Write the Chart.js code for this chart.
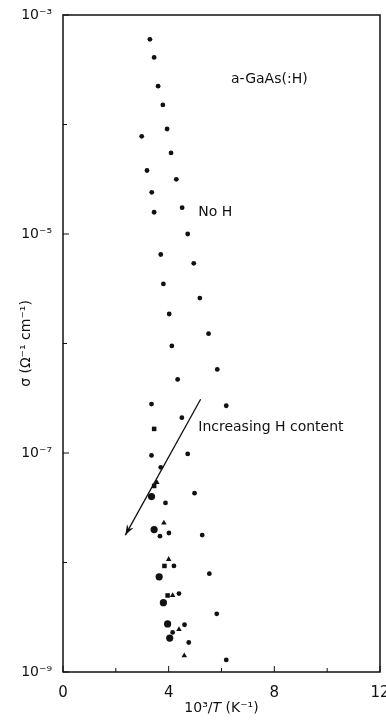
<!DOCTYPE html>
<html>
<head>
<meta charset="utf-8">
<script src="https://cdn.jsdelivr.net/npm/chart.js@4.4.1/dist/chart.umd.min.js"></script>
<style>
  html, body { margin: 0; padding: 0; background: #fff; }
  #wrap { width: 386px; height: 720px; }
</style>
</head>
<body>
<div id="wrap"><canvas id="chart" width="386" height="720"></canvas></div>
<script>
// small filled dots (10^3/T in K^-1, sigma in ohm^-1 cm^-1)
const dotX = [3.29, 3.45, 3.60, 3.78, 3.94, 2.98, 4.09, 3.18, 4.29, 3.36, 3.45, 4.51, 4.72,
  3.70, 4.95, 3.80, 5.18, 4.02, 5.51, 4.12, 5.84, 4.34, 3.35, 6.18, 4.50, 3.35, 4.72,
  3.70, 4.98, 3.88, 3.67, 4.01, 5.27, 4.20, 5.54, 4.39, 5.82, 4.60, 4.15, 4.76, 6.18];
const dotY = [6.0e-4, 4.1e-4, 2.24e-4, 1.51e-4, 9.1e-5, 7.8e-5, 5.5e-5, 3.8e-5, 3.16e-5, 2.4e-5, 1.58e-5, 1.74e-5, 1.0e-5,
  6.5e-6, 5.4e-6, 3.5e-6, 2.6e-6, 1.86e-6, 1.23e-6, 9.5e-7, 5.8e-7, 4.7e-7, 2.8e-7, 2.7e-7, 2.1e-7, 9.5e-8, 9.8e-8,
  7.4e-8, 4.3e-8, 3.5e-8, 1.74e-8, 1.86e-8, 1.78e-8, 9.3e-9, 7.9e-9, 5.2e-9, 3.4e-9, 2.7e-9, 2.3e-9, 1.86e-9, 1.29e-9];

// larger dots
const bigX = [3.35, 3.45, 3.64, 3.80, 3.96, 4.04];
const bigY = [4.0e-8, 2.0e-8, 7.4e-9, 4.3e-9, 2.75e-9, 2.04e-9];

// triangles
const triX = [3.55, 3.82, 4.00, 4.15, 4.39, 4.59];
const triY = [5.4e-8, 2.3e-8, 1.07e-8, 5.0e-9, 2.45e-9, 1.41e-9];

// small squares
const sqX = [3.45, 3.45, 3.84, 3.96];
const sqY = [1.66e-7, 5.0e-8, 9.3e-9, 5.0e-9];

// arrow "Increasing H content"
const arrowX = [5.21, 2.36];
const arrowY = [3.1e-7, 1.78e-8];

const xTicks = [0, 2, 4, 6, 8, 10, 12];
const xTickLabels = ['0', '', '4', '', '8', '', '12'];
const yTicks = [1e-9, 1e-8, 1e-7, 1e-6, 1e-5, 1e-4, 1e-3];
const yTickLabels = ['10⁻⁹', '', '10⁻⁷', '', '10⁻⁵', '', '10⁻³'];

const FONT = '"DejaVu Sans", sans-serif';

const pts = (xs, ys) => xs.map((x, i) => ({ x: x, y: ys[i] }));

const frame = {
  id: 'frame',
  afterDraw(chart) {
    const { ctx, chartArea: a, scales } = chart;
    ctx.save();
    ctx.strokeStyle = '#111';
    ctx.lineWidth = 1.5;
    ctx.strokeRect(a.left, a.top, a.right - a.left, a.bottom - a.top);

    // inward tick marks
    ctx.lineWidth = 1;
    xTicks.forEach((v, i) => {
      const px = scales.x.getPixelForValue(v);
      const len = xTickLabels[i] ? 6 : 4;
      ctx.beginPath();
      ctx.moveTo(px, a.bottom);
      ctx.lineTo(px, a.bottom - len);
      ctx.stroke();
    });
    yTicks.forEach((v, i) => {
      const py = scales.y.getPixelForValue(v);
      const len = yTickLabels[i] ? 6 : 4;
      ctx.beginPath();
      ctx.moveTo(a.left, py);
      ctx.lineTo(a.left + len, py);
      ctx.stroke();
    });

    // arrow head
    const x1 = scales.x.getPixelForValue(arrowX[0]), y1 = scales.y.getPixelForValue(arrowY[0]);
    const x2 = scales.x.getPixelForValue(arrowX[1]), y2 = scales.y.getPixelForValue(arrowY[1]);
    const ang = Math.atan2(y2 - y1, x2 - x1);
    ctx.fillStyle = '#111';
    ctx.beginPath();
    ctx.moveTo(x2, y2);
    ctx.lineTo(x2 - 11 * Math.cos(ang - 0.35), y2 - 11 * Math.sin(ang - 0.35));
    ctx.lineTo(x2 - 7 * Math.cos(ang), y2 - 7 * Math.sin(ang));
    ctx.lineTo(x2 - 11 * Math.cos(ang + 0.35), y2 - 11 * Math.sin(ang + 0.35));
    ctx.closePath();
    ctx.fill();

    // annotations
    ctx.fillStyle = '#111';
    ctx.textBaseline = 'middle';
    ctx.textAlign = 'left';
    ctx.font = '14px ' + FONT;
    ctx.fillText('a-GaAs(:H)', scales.x.getPixelForValue(6.36), scales.y.getPixelForValue(2.6e-4));
    ctx.fillText('No H', scales.x.getPixelForValue(5.12), scales.y.getPixelForValue(1.58e-5));
    ctx.fillText('Increasing H content', scales.x.getPixelForValue(5.12), scales.y.getPixelForValue(1.7e-7));

    // x axis title with italic T
    const parts = [['10³/', '14px ' + FONT], ['T', 'italic 14px ' + FONT], [' (K⁻¹)', '14px ' + FONT]];
    let total = 0;
    parts.forEach(p => { ctx.font = p[1]; total += ctx.measureText(p[0]).width; });
    let cx = (a.left + a.right) / 2 - total / 2;
    parts.forEach(p => {
      ctx.font = p[1];
      ctx.fillText(p[0], cx, 708);
      cx += ctx.measureText(p[0]).width;
    });
    ctx.restore();
  }
};

new Chart(document.getElementById('chart'), {
  type: 'scatter',
  data: {
    datasets: [
      { data: pts(dotX, dotY), pointStyle: 'circle', pointRadius: 2.4, backgroundColor: '#111', borderWidth: 0 },
      { data: pts(bigX, bigY), pointStyle: 'circle', pointRadius: 3.6, backgroundColor: '#111', borderWidth: 0 },
      { data: pts(triX, triY), pointStyle: 'triangle', pointRadius: 3.2, backgroundColor: '#111', borderWidth: 0 },
      { data: pts(sqX, sqY), pointStyle: 'rect', pointRadius: 3.2, backgroundColor: '#111', borderWidth: 0 },
      { data: pts(arrowX, arrowY), showLine: true, borderColor: '#111', borderWidth: 1.3, pointRadius: 0 }
    ]
  },
  options: {
    responsive: false,
    animation: false,
    layout: { padding: { top: 15, right: 6, left: 0, bottom: 0 } },
    plugins: { legend: { display: false }, tooltip: { enabled: false } },
    scales: {
      x: {
        type: 'linear',
        min: 0,
        max: 12,
        grid: { display: false },
        border: { display: false },
        afterBuildTicks: s => { s.ticks = xTicks.map(v => ({ value: v })); },
        ticks: {
          autoSkip: false,
          maxRotation: 0,
          color: '#111',
          font: { family: FONT, size: 15 },
          padding: 4,
          callback: (v, i) => xTickLabels[i]
        },
        afterFit: s => { s.height = 48; s.paddingLeft = 0; s.paddingRight = 0; }
      },
      y: {
        type: 'logarithmic',
        min: 1e-9,
        max: 1e-3,
        grid: { display: false },
        border: { display: false },
        afterBuildTicks: s => { s.ticks = yTicks.map(v => ({ value: v })); },
        ticks: {
          autoSkip: false,
          color: '#111',
          font: { family: FONT, size: 14 },
          padding: 3,
          callback: (v, i) => yTickLabels[i]
        },
        title: {
          display: true,
          text: 'σ (Ω⁻¹ cm⁻¹)',
          color: '#111',
          font: { family: FONT, size: 14 },
          padding: { top: 18, bottom: 4 }
        },
        afterFit: s => { s.width = 63; s.paddingTop = 0; s.paddingBottom = 0; }
      }
    }
  },
  plugins: [frame]
});
</script>
</body>
</html>
